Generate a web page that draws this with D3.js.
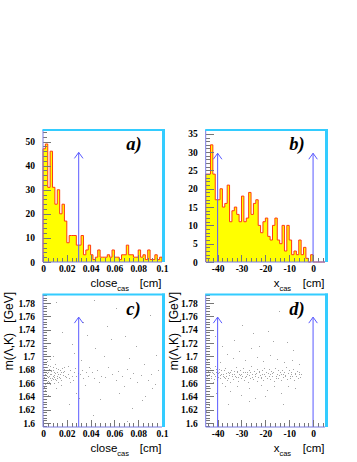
<!DOCTYPE html>
<html><head><meta charset="utf-8">
<script src="https://cdn.jsdelivr.net/npm/d3@7"></script>
<style>body{margin:0;background:#fff}svg{display:block}</style>
</head><body>
<script>
// ---------------- data ----------------
const closeBinStart = 0, closeBinWidth = 0.002;
const closeCounts = [47,49,31,46,31,24,30,20,24,17, 8,11,11,11,7,7,11,3,5,7,
                     3,1,2,5,2,2,2,3,2,5, 2,2,1,3,3,7,3,3,2,2, 5,2,3,1,5,1,1,3,1,2];
const xcasBinStart = -45, xcasBinWidth = 1;
const xcasCounts = [24,24,32,24,17,17,20,15,16,21, 11,14,15,13,11,18,11,12,19,13,
                    16,17,10,8,11,12,7,6,10,12, 6,5,10,3,10,6,2,3,2,6, 2,4,1,0,2,0,0,0,0,0];
const closeTicks = [0,0.02,0.04,0.06,0.08,0.1];
const closeTickLabels = ["0","0.02","0.04","0.06","0.08","0.1"];
const xcasTicks = [-40,-30,-20,-10,0];
const xcasTickLabels = ["-40","-30","-20","-10","0"];
const countTicksA = [0,10,20,30,40,50];
const countTicksB = [0,5,10,15,20,25,30,35];
const massTicks = [1.6,1.62,1.64,1.66,1.68,1.7,1.72,1.74,1.76,1.78];
const massTickLabels = ["1.6","1.62","1.64","1.66","1.68","1.7","1.72","1.74","1.76","1.78"];
const closeCuts = [0.03];
const xcasCuts = [-40, 0];
const panelLetters = ["a)","b)","c)","d)"];

const scatterC = [
[0.001,1.672],[0.002,1.668],[0.003,1.675],[0.001,1.681],[0.004,1.663],[0.002,1.659],[0.005,1.671],[0.003,1.684],[0.006,1.667],[0.004,1.677],
[0.007,1.673],[0.005,1.662],[0.008,1.679],[0.006,1.686],[0.009,1.669],[0.007,1.664],[0.010,1.675],[0.008,1.671],[0.011,1.682],[0.009,1.66],
[0.012,1.668],[0.010,1.688],[0.013,1.674],[0.011,1.665],[0.014,1.679],[0.012,1.671],[0.015,1.676],[0.013,1.662],[0.016,1.683],[0.014,1.667],
[0.017,1.672],[0.018,1.678],[0.019,1.669],[0.002,1.676],[0.001,1.664],[0.003,1.67],[0.004,1.687],[0.005,1.681],[0.006,1.658],[0.007,1.68],
[0.008,1.666],[0.009,1.676],[0.0015,1.673],[0.0025,1.679],[0.0035,1.661],[0.0045,1.669],[0.0055,1.674],[0.0065,1.678],[0.0075,1.668],[0.0085,1.684],
[0.0095,1.672],[0.0105,1.666],[0.0115,1.677],[0.0125,1.681],[0.0135,1.669],[0.0145,1.673],[0.0155,1.665],[0.0165,1.676],[0.0175,1.684],[0.0185,1.671],
[0.0005,1.669],[0.0005,1.677],[0.001,1.654],[0.003,1.693],[0.006,1.696],[0.002,1.65],[0.011,1.652],[0.004,1.642],[0.008,1.701],[0.015,1.657],
[0.021,1.674],[0.022,1.668],[0.023,1.679],[0.024,1.671],[0.025,1.664],[0.026,1.677],[0.027,1.682],[0.028,1.67],[0.029,1.675],[0.021,1.686],
[0.023,1.661],[0.031,1.673],[0.033,1.679],[0.034,1.668],[0.036,1.676],[0.032,1.695],[0.035,1.657],[0.038,1.671],[0.039,1.684],[0.026,1.705],
[0.028,1.645],[0.037,1.732],[0.024,1.718],[0.030,1.638],[0.022,1.628],
[0.041,1.676],[0.043,1.667],[0.045,1.679],[0.047,1.662],[0.049,1.671],[0.052,1.669],[0.055,1.684],[0.058,1.674],[0.061,1.664],[0.063,1.678],
[0.066,1.67],[0.068,1.655],[0.071,1.681],[0.073,1.667],[0.076,1.675],[0.079,1.662],[0.082,1.672],[0.085,1.689],[0.088,1.665],[0.091,1.674],
[0.094,1.658],[0.097,1.68],[0.044,1.712],[0.051,1.701],[0.057,1.726],[0.064,1.645],[0.072,1.698],[0.078,1.716],[0.083,1.634],[0.092,1.652],
[0.086,1.641],[0.048,1.636],[0.069,1.731],[0.095,1.702],[0.075,1.622],
[0.011,1.781],[0.043,1.784],[0.061,1.772],[0.034,1.752],[0.054,1.745],[0.016,1.737],[0.090,1.762],[0.042,1.612],[0.071,1.603]
];
const scatterD = [
[-44.6,1.671],[-44.2,1.678],[-43.8,1.665],[-43.5,1.674],[-43.1,1.682],[-42.8,1.668],[-42.4,1.676],[-42.1,1.661],[-41.7,1.673],[-41.3,1.686],
[-41.0,1.67],[-40.6,1.677],[-40.2,1.664],[-39.9,1.675],[-39.5,1.681],[-39.1,1.667],[-38.8,1.672],[-38.4,1.679],[-38.0,1.66],[-37.7,1.674],
[-37.3,1.669],[-36.9,1.683],[-36.6,1.671],[-36.2,1.665],[-35.8,1.677],[-35.5,1.668],[-35.1,1.675],[-34.7,1.662],[-34.4,1.68],[-34.0,1.673],
[-33.6,1.666],[-33.3,1.678],[-32.9,1.671],[-32.5,1.684],[-32.2,1.669],[-31.8,1.676],[-31.4,1.663],[-31.1,1.673],[-30.7,1.68],[-30.3,1.667],
[-30.0,1.674],[-29.6,1.671],[-29.2,1.682],[-28.9,1.665],[-28.5,1.677],[-28.1,1.67],[-27.8,1.676],[-27.4,1.662],[-27.0,1.679],[-26.7,1.672],
[-26.3,1.668],[-25.9,1.685],[-25.6,1.674],[-25.2,1.666],[-24.8,1.678],[-24.5,1.671],[-24.1,1.675],[-23.7,1.663],[-23.4,1.681],[-23.0,1.669],
[-22.6,1.676],[-22.3,1.672],[-21.9,1.667],[-21.5,1.679],[-21.2,1.674],[-20.8,1.664],[-20.4,1.683],[-20.1,1.67],[-19.7,1.677],[-19.3,1.668],
[-19.0,1.675],[-18.6,1.681],[-18.2,1.666],[-17.9,1.673],[-17.5,1.678],[-17.1,1.67],[-16.8,1.676],[-16.4,1.663],[-16.0,1.682],[-15.7,1.671],
[-15.3,1.674],[-14.9,1.667],[-14.6,1.679],[-14.2,1.672],[-13.8,1.676],[-13.5,1.665],[-13.1,1.68],[-12.7,1.673],[-12.4,1.669],[-12.0,1.677],
[-11.6,1.671],[-11.3,1.684],[-10.9,1.666],[-10.5,1.675],[-10.2,1.679],[-9.8,1.668],[-9.4,1.673],[-9.1,1.677],[-8.7,1.67],[-8.3,1.681],
[-8.0,1.665],[-7.6,1.674],[-7.2,1.671],[-6.9,1.678],[-6.5,1.667],[-6.1,1.673],[-5.8,1.676],[-5.4,1.669],[-5.1,1.674],
[-44.9,1.668],[-44.0,1.672],[-43.3,1.677],[-42.6,1.67],[-41.9,1.675],[-41.5,1.666],[-40.8,1.681],[-40.4,1.672],[-39.7,1.669],[-39.3,1.676],
[-38.6,1.674],[-37.9,1.671],[-37.5,1.679],[-36.8,1.668],[-36.4,1.675],[-35.3,1.672],[-34.9,1.677],[-33.8,1.67],[-33.1,1.674],[-32.0,1.678],
[-31.6,1.669],[-30.5,1.672],[-29.4,1.676],[-28.7,1.669],[-27.6,1.673],[-26.5,1.677],[-25.4,1.669],[-24.3,1.673],[-22.8,1.678],[-21.7,1.669],
[-20.6,1.674],[-18.4,1.671],[-17.3,1.675],[-15.5,1.668],[-13.3,1.674],[-11.8,1.672],[-9.6,1.67],[-7.4,1.675],
[-44.5,1.695],[-43.0,1.652],[-42.0,1.701],[-40.5,1.645],[-39.0,1.692],[-37.0,1.655],[-36.0,1.704],[-35.0,1.648],[-33.5,1.697],[-32.0,1.656],
[-31.0,1.708],[-30.0,1.642],[-28.5,1.694],[-27.0,1.653],[-26.0,1.712],[-24.5,1.638],[-23.5,1.699],[-22.0,1.657],[-21.0,1.693],[-19.5,1.649],
[-18.0,1.702],[-16.5,1.655],[-15.0,1.696],[-13.5,1.645],[-12.0,1.691],[-10.5,1.656],[-9.0,1.694],[-7.5,1.652],[-6.0,1.689],[-44.0,1.641],
[-43.5,1.627],[-38.0,1.716],[-33.0,1.724],[-29.8,1.747],[-26.8,1.633],[-25.0,1.735],[-20.0,1.641],[-17.0,1.723],[-14.3,1.768],[-12.5,1.629],
[-8.5,1.71],[-44.7,1.618],[-41.0,1.73],[-35.8,1.628],[-22.5,1.715],[-19.0,1.738],[-11.0,1.722]
];

// ---------------- drawing ----------------
const W = 357, H = 462;
const svg = d3.select("body").append("svg").attr("width", W).attr("height", H);
svg.append("rect").attr("width", W).attr("height", H).attr("fill", "#fff");

const COLS = [[43,162],[205.7,325]];
const ROWS = [[130,262],[294.5,427]];
const CYAN = "#33ccff", ARROW = "#5a5aff", AXISC = "#7a7ae0";
const tickFont = "Liberation Serif";

function panel(cfg){
  const [x0,x1] = COLS[cfg.col], [y0,y1] = ROWS[cfg.row];
  const xs = d3.scaleLinear().domain(cfg.xDomain).range([x0,x1]);
  const ys = d3.scaleLinear().domain(cfg.yDomain).range([y1,y0]);
  const g = svg.append("g");

  if (cfg.hist){
    const h = cfg.hist, pts = [[h.start, 0]];
    h.counts.forEach((v,i)=>{ pts.push([h.start+i*h.width, v]); pts.push([h.start+(i+1)*h.width, v]); });
    pts.push([h.start+h.counts.length*h.width, 0]);
    const line = d3.line().x(d=>xs(d[0])).y(d=>ys(d[1]));
    g.append("path").attr("d", line(pts)+"Z").attr("fill","#ffff00").attr("stroke","none");
    g.append("path").attr("d", line(pts)).attr("fill","none").attr("stroke","#ff3a10").attr("stroke-width",1);
  }
  if (cfg.points){
    g.append("g").selectAll("rect").data(cfg.points).join("rect")
      .attr("x", d=>Math.round(xs(d[0]))).attr("y", d=>Math.round(ys(d[1])))
      .attr("width",1).attr("height",1).attr("fill","#a4a4a4");
  }
  // cut arrows
  cfg.cuts.forEach(c=>{
    const ax = xs(c), top = ys(cfg.arrowTip), bot = ys(cfg.yDomain[0]);
    g.append("line").attr("x1",ax).attr("x2",ax).attr("y1",bot).attr("y2",top)
      .attr("stroke",ARROW).attr("stroke-width",1);
    g.append("path").attr("d",`M${ax-4.3},${top+6}L${ax},${top}L${ax+4.3},${top+6}`)
      .attr("fill","none").attr("stroke",ARROW).attr("stroke-width",1);
  });

  // axes: minor ticks
  const yMinor = d3.axisLeft(ys).tickValues(cfg.yMinor).tickSize(-4).tickFormat("");
  const xMinor = d3.axisBottom(xs).tickValues(cfg.xMinor).tickSize(-4).tickFormat("");
  const ym = g.append("g").attr("transform",`translate(${x0},0)`).call(yMinor);
  const xm = g.append("g").attr("transform",`translate(0,${y1})`).call(xMinor);
  // major
  const yAx = d3.axisLeft(ys).tickValues(cfg.yTicks).tickSize(-8).tickPadding(8)
    .tickFormat((d,i)=>cfg.yLabels[i]);
  const xAx = d3.axisBottom(xs).tickValues(cfg.xTicks).tickSize(-7).tickPadding(3)
    .tickFormat((d,i)=>cfg.xLabels[i]);
  const ya = g.append("g").attr("transform",`translate(${x0},0)`).call(yAx);
  const xa = g.append("g").attr("transform",`translate(0,${y1})`).call(xAx);
  [ym,xm,ya,xa].forEach(a=>{
    a.select(".domain").remove();
    a.selectAll(".tick line").attr("stroke","#777").attr("shape-rendering","crispEdges");
    a.selectAll("text").attr("font-family",tickFont).attr("font-weight","bold")
      .attr("font-size","9.5px").attr("fill","#000");
  });
  // axis lines
  g.append("line").attr("x1",x0).attr("x2",x0).attr("y1",y0).attr("y2",y1)
    .attr("stroke",AXISC).attr("stroke-width",1);
  g.append("line").attr("x1",x0).attr("x2",x1).attr("y1",y1).attr("y2",y1)
    .attr("stroke",AXISC).attr("stroke-width",1);
  // cyan frame (top & right)
  g.append("rect").attr("x",x0-0.5).attr("y",y0-1).attr("width",x1-x0+3.5).attr("height",2).attr("fill",CYAN);
  g.append("rect").attr("x",x1).attr("y",y0-1).attr("width",3).attr("height",y1-y0+1).attr("fill",CYAN);

  // panel letter
  g.append("text").attr("x",x0+(x1-x0)*0.7).attr("y",y0+20).text(cfg.letter)
    .attr("font-family","Liberation Serif").attr("font-weight","bold").attr("font-style","italic")
    .attr("font-size","18.5px").attr("fill","#000");

  // x title
  const tb = y1+25;
  const t = g.append("text").attr("x",x0+cfg.titleOffset).attr("y",tb)
    .attr("font-family","Liberation Sans").attr("font-size","11.5px").attr("fill","#000");
  t.append("tspan").text(cfg.xTitle);
  t.append("tspan").attr("dy",4).attr("font-size","7.5px").text("cas");
  g.append("text").attr("x",x1-0.5).attr("y",tb).attr("text-anchor","end").text("[cm]")
    .attr("font-family","Liberation Sans").attr("font-size","11.5px").attr("fill","#000");

  // y title (mass panels)
  if (cfg.yTitleX !== undefined){
    g.append("text").attr("transform",`translate(${cfg.yTitleX},${y0-2.5}) rotate(-90)`)
      .attr("text-anchor","end").text("[GeV]")
      .attr("font-family","Liberation Sans").attr("font-size","12px").attr("fill","#000");
    g.append("text").attr("transform",`translate(${cfg.yTitleX},${y0+38.5}) rotate(-90)`)
      .attr("text-anchor","end").text("m(Λ,K)")
      .attr("font-family","Liberation Sans").attr("font-size","12px").attr("fill","#000");
  }
}

const closeMinor = d3.range(0, 0.1001, 0.004);
const xcasMinor = d3.range(-44, 5, 2);
const massMinor = d3.range(1.596, 1.793, 0.004);

panel({col:0,row:0,letter:panelLetters[0],xDomain:[0,0.1],yDomain:[0,54.8],
  hist:{start:closeBinStart,width:closeBinWidth,counts:closeCounts},
  cuts:closeCuts,arrowTip:45.5,
  xTicks:closeTicks,xLabels:closeTickLabels,xMinor:closeMinor,
  yTicks:countTicksA,yLabels:countTicksA.map(String),yMinor:d3.range(0,55,2),
  xTitle:"close",titleOffset:47.5});
panel({col:1,row:0,letter:panelLetters[1],xDomain:[-45,5],yDomain:[0,36.05],
  hist:{start:xcasBinStart,width:xcasBinWidth,counts:xcasCounts},
  cuts:xcasCuts,arrowTip:29.7,
  xTicks:xcasTicks,xLabels:xcasTickLabels,xMinor:xcasMinor,
  yTicks:countTicksB,yLabels:countTicksB.map(String),yMinor:d3.range(0,36.5,1),
  xTitle:"x",titleOffset:68});
panel({col:0,row:1,letter:panelLetters[2],xDomain:[0,0.1],yDomain:[1.594,1.793],
  points:scatterC,cuts:closeCuts,arrowTip:1.759,
  xTicks:closeTicks,xLabels:closeTickLabels,xMinor:closeMinor,
  yTicks:massTicks,yLabels:massTickLabels,yMinor:massMinor,
  xTitle:"close",titleOffset:47.5,yTitleX:12.5});
panel({col:1,row:1,letter:panelLetters[3],xDomain:[-45,5],yDomain:[1.594,1.793],
  points:scatterD,cuts:xcasCuts,arrowTip:1.759,
  xTicks:xcasTicks,xLabels:xcasTickLabels,xMinor:xcasMinor,
  yTicks:massTicks,yLabels:massTickLabels,yMinor:massMinor,
  xTitle:"x",titleOffset:68,yTitleX:178});
</script>
</body></html>
